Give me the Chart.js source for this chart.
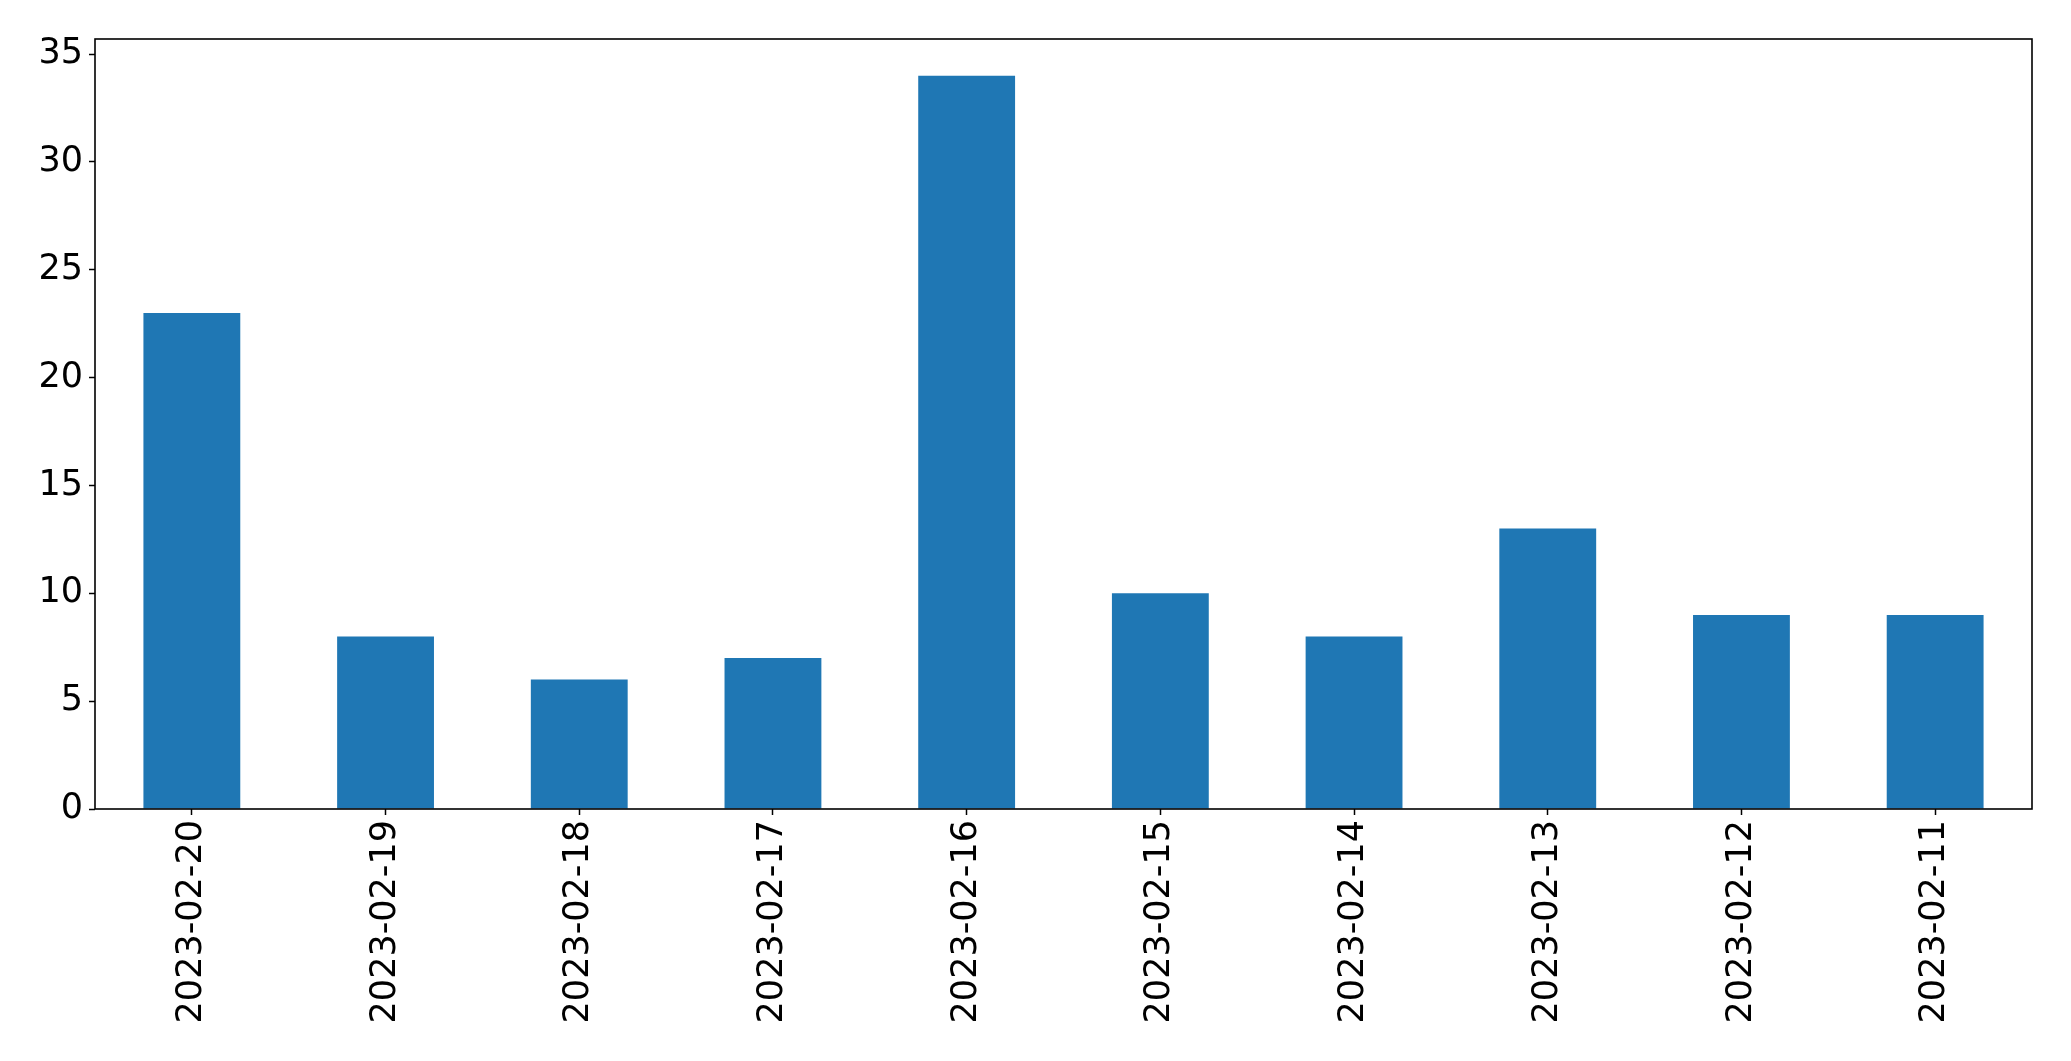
<!DOCTYPE html>
<html>
<head>
<meta charset="utf-8">
<script src="https://cdn.jsdelivr.net/npm/chart.js@4/dist/chart.umd.min.js"></script>
<style>
  html, body { margin: 0; padding: 0; background: #fff; }
  canvas { display: block; }
</style>
</head>
<body>
<canvas id="chart" width="2071" height="1061"></canvas>
<script>
const dates = ["2023-02-20", "2023-02-19", "2023-02-18", "2023-02-17", "2023-02-16",
               "2023-02-15", "2023-02-14", "2023-02-13", "2023-02-12", "2023-02-11"]
const counts = [23, 8, 6, 7, 34, 10, 8, 13, 9, 9]
const yMax = 35.7
const yStep = 5

// draw the full axes frame like matplotlib
const frame = {
  id: 'frame',
  afterDraw(chart) {
    const { ctx, chartArea: a } = chart
    ctx.save()
    ctx.strokeStyle = '#000'
    ctx.lineWidth = 1.6
    ctx.strokeRect(a.left, a.top, a.right - a.left, a.bottom - a.top)
    ctx.restore()
  }
}

const font = { family: "'DejaVu Sans', sans-serif", size: 35 }

new Chart(document.getElementById('chart').getContext('2d'), {
  type: 'bar',
  data: {
    labels: dates,
    datasets: [{
      data: counts,
      backgroundColor: '#1f77b4',
      borderWidth: 0,
      categoryPercentage: 1,
      barPercentage: 0.5
    }]
  },
  options: {
    responsive: false,
    animation: false,
    layout: { padding: { left: 0, top: 39, right: 39, bottom: 0 } },
    plugins: {
      legend: { display: false },
      tooltip: { enabled: false }
    },
    scales: {
      x: {
        offset: true,
        afterFit(scale) { scale.height = 252 },
        grid: { offset: false, drawOnChartArea: false, tickLength: 6, tickColor: '#000', tickWidth: 1.5 },
        border: { display: false },
        ticks: {
          color: '#000',
          font: font,
          minRotation: 90,
          maxRotation: 90,
          autoSkip: false,
          padding: 5
        }
      },
      y: {
        min: 0,
        max: yMax,
        afterFit(scale) { scale.width = 95 },
        grid: { drawOnChartArea: false, tickLength: 6, tickColor: '#000', tickWidth: 1.5 },
        border: { display: false },
        ticks: {
          color: '#000',
          font: font,
          stepSize: yStep,
          includeBounds: false,
          padding: 6
        }
      }
    }
  },
  plugins: [frame]
})
</script>
</body>
</html>
